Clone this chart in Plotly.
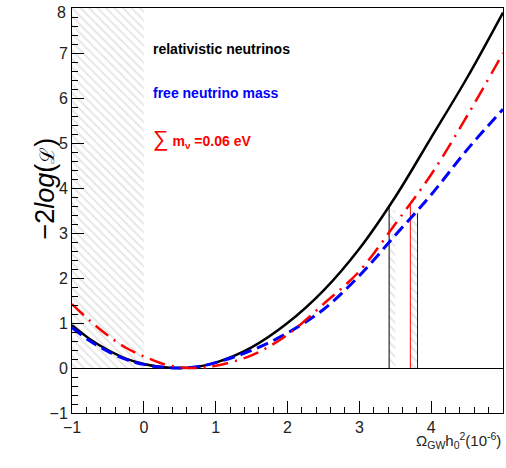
import plotly.graph_objects as go

# curve samples
x_vals = [-1.0, -0.75, -0.5, -0.25, 0.0, 0.25, 0.5, 0.75, 1.0, 1.5, 2.0, 2.5, 3.0, 3.5, 4.0, 4.5, 5.0]
relativistic = [0.95, 0.64, 0.40, 0.21, 0.09, 0.02, 0.0, 0.03, 0.12, 0.46, 1.0, 1.72, 2.65, 3.8, 5.12, 6.45, 7.9]
free_mass = [0.90, 0.60, 0.37, 0.19, 0.08, 0.02, 0.0, 0.03, 0.12, 0.39, 0.78, 1.3, 2.05, 2.95, 3.85, 4.85, 5.75]
sum_mnu = [1.42, 1.05, 0.72, 0.45, 0.26, 0.10, 0.02, 0.0, 0.05, 0.28, 0.74, 1.42, 2.15, 3.2, 4.3, 5.6, 7.0]

y_ticks = [-1, 0, 1, 2, 3, 4, 5, 6, 7, 8]

# vertical markers: x position, top value, colour
marker_x = [3.415, 3.71, 3.81]
marker_top = [3.62, 3.62, 3.44]
marker_col = ["black", "#ff0000", "#0000ff"]

# hatched bands: (x0, x1, top)
bands = [(-1.0, 0.0, 8.0), (3.415, 3.50, 3.5), (3.71, 3.81, 3.5)]

fig = go.Figure()

for x0, x1, top in bands:
    fig.add_trace(go.Scatter(
        x=[x0, x1, x1, x0, x0], y=[0, 0, top, top, 0],
        mode="lines", fill="toself", line=dict(width=0),
        fillcolor="rgba(255,255,255,0)",
        fillpattern=dict(shape="\\", fgcolor="#c8c8c8", size=6, solidity=0.3),
        showlegend=False, hoverinfo="skip",
    ))

for mx, mt, mc in zip(marker_x, marker_top, marker_col):
    fig.add_trace(go.Scatter(x=[mx, mx], y=[0, mt], mode="lines",
                             line=dict(color=mc, width=1), showlegend=False))

fig.add_trace(go.Scatter(x=x_vals, y=relativistic, mode="lines", line_shape="spline",
                         line=dict(color="black", width=2.5), showlegend=False))
fig.add_trace(go.Scatter(x=x_vals, y=free_mass, mode="lines", line_shape="spline",
                         line=dict(color="#0000ff", width=3, dash="12px,6px"), showlegend=False))
fig.add_trace(go.Scatter(x=x_vals, y=sum_mnu, mode="lines", line_shape="spline",
                         line=dict(color="#ff0000", width=2.5, dash="16px,7px,2px,7px"), showlegend=False))

tick_font = dict(family="Liberation Sans, Arial", size=16, color="#222")
fig.update_xaxes(range=[-1, 5], dtick=1, ticks="inside", ticklen=12, tickcolor="black",
                 showline=True, linecolor="black", linewidth=1, mirror=True,
                 showgrid=False, zeroline=False, tickfont=tick_font,
                 minor=dict(ticks="inside", ticklen=6, dtick=0.2, tickcolor="black"))
# top label (8) sits at the very edge, so it is drawn as an annotation below
fig.update_yaxes(range=[-1, 8], tickvals=y_ticks[:-1], ticks="inside", ticklen=12, tickcolor="black",
                 showline=True, linecolor="black", linewidth=1, mirror=True,
                 showgrid=False, zeroline=True, zerolinecolor="black", zerolinewidth=1,
                 tickfont=tick_font,
                 minor=dict(ticks="inside", ticklen=6, dtick=0.2, tickcolor="black"))
fig.add_annotation(xref="paper", x=0, y=y_ticks[-1], text=str(y_ticks[-1]), showarrow=False,
                   xanchor="right", yanchor="top", xshift=-4, yshift=6, font=tick_font)

label_font = dict(family="Liberation Sans, Arial", size=14)
fig.add_annotation(x=0.10, y=7.09, text="<b>relativistic neutrinos</b>", showarrow=False,
                   xanchor="left", font=dict(label_font, color="black"))
fig.add_annotation(x=0.10, y=6.11, text="<b>free neutrino mass</b>", showarrow=False,
                   xanchor="left", font=dict(label_font, color="#0000ff"))
fig.add_annotation(x=0.10, y=5.11, showarrow=False, xanchor="left",
                   text="<span style='font-size:22px'>∑</span> <b>m<sub>ν</sub> =0.06 eV</b>",
                   font=dict(label_font, color="#ff0000"))

fig.add_annotation(xref="paper", yref="paper", x=1.0, y=-0.067, xanchor="right", yanchor="middle",
                   text="Ω<sub>GW</sub>h<sub>0</sub><sup>2</sup>(10<sup>-6</sup>)", showarrow=False,
                   font=dict(family="Liberation Sans, Arial", size=15, color="#222"))
fig.add_annotation(xref="paper", yref="paper", x=-0.102, y=0.685, textangle=-90,
                   text="−2<i>log</i>(<span style='font-size:20px'>ℒ</span>)", showarrow=False,
                   font=dict(family="Liberation Sans, Arial", size=27, color="black"))

fig.update_layout(
    width=506, height=468,
    margin=dict(l=72, r=3, t=8, b=55),
    plot_bgcolor="white", paper_bgcolor="white",
)

# drop the default body margin so the figure fills the window exactly
fig.write_html("out.html", config={"displayModeBar": False},
               post_script="document.body.style.margin='0';document.body.style.overflow='hidden';")
